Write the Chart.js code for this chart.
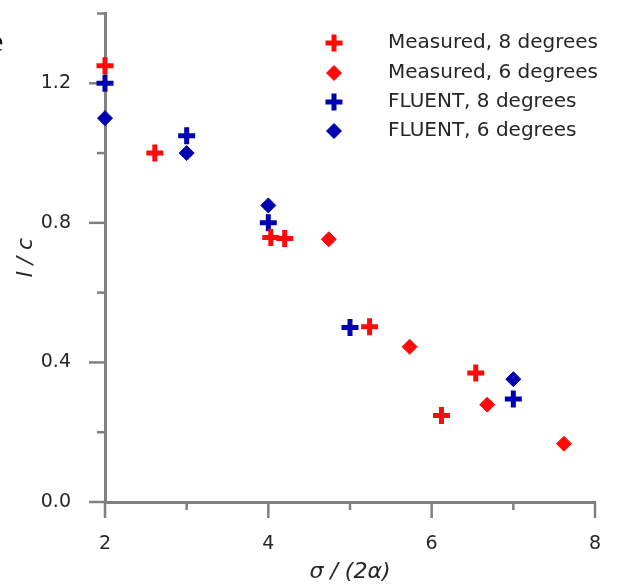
<!DOCTYPE html>
<html><head><meta charset="utf-8">
<script src="https://cdn.jsdelivr.net/npm/chart.js@4"></script>
<style>
html,body{margin:0;padding:0;background:#fff;overflow:hidden}
#wrap{position:relative;width:619px;height:587px}
#e{position:absolute;left:-10px;top:26px;font:30px 'Liberation Serif';color:#111;line-height:30px}
</style></head><body>
<div id="wrap"><canvas id="c" width="619" height="587"></canvas><span id="e">e</span></div>
<script>
// ---- data ----
const xMajorTicks = [2, 4, 6, 8];
const xMinorTicks = [3, 5, 7];
const yMajorTicks = [0, 0.4, 0.8, 1.2];
const yMinorTicks = [0.2, 0.6, 1.0, 1.4];

const meas8X = [2.0, 2.61, 4.03, 4.20, 5.24, 6.12, 6.54];
const meas8Y = [1.25, 1.0, 0.758, 0.755, 0.502, 0.248, 0.37];
const meas6X = [4.74, 5.73, 6.68, 7.62];
const meas6Y = [0.753, 0.445, 0.279, 0.167];
const flu8X = [2, 3, 4, 5, 7];
const flu8Y = [1.2, 1.05, 0.80, 0.50, 0.295];
const flu6X = [2, 3, 4, 7];
const flu6Y = [1.10, 1.0, 0.85, 0.352];

const labels = ['Measured, 8 degrees', 'Measured, 6 degrees', 'FLUENT, 8 degrees', 'FLUENT, 6 degrees'];

const RED = '#ff0a0a', BLUE = '#0000b0', AXIS = '#808080', TXT = '#262626';
const pts = (xs, ys) => xs.map((x, i) => ({x, y: ys[i]}));
function ds(label, data, color, style) {
  const cross = style === 'cross';
  return {label, data, pointStyle: style, backgroundColor: color, borderColor: color,
    pointRadius: cross ? 8.5 : 7.5, borderWidth: cross ? 5 : 1, showLine: false, clip: false};
}
function noPad(s) { s.paddingTop = 0; s.paddingBottom = 0; s.paddingLeft = 0; s.paddingRight = 0; }

const tickPlugin = {
  id: 'axisTicks',
  beforeDatasetsDraw(chart) {
    const {ctx, scales: {x, y}} = chart;
    const yb = y.getPixelForValue(0), xl = x.getPixelForValue(2);
    ctx.save();
    ctx.strokeStyle = AXIS; ctx.lineWidth = 2.5; ctx.lineCap = 'butt';
    const line = (a, b, c, d) => { ctx.beginPath(); ctx.moveTo(a, b); ctx.lineTo(c, d); ctx.stroke(); };
    xMajorTicks.forEach(v => { const p = x.getPixelForValue(v); line(p, yb, p, yb + 16); });
    xMinorTicks.forEach(v => { const p = x.getPixelForValue(v); line(p, yb, p, yb + 8); });
    yMajorTicks.forEach(v => { const p = y.getPixelForValue(v); line(xl - 16, p, xl, p); });
    yMinorTicks.forEach(v => { const p = y.getPixelForValue(v); line(xl - 8, p, xl, p); });
    ctx.restore();
  }
};

const legendPlugin = {
  id: 'customLegend',
  afterDatasetsDraw(chart) {
    const ctx = chart.ctx;
    const rowY = [43, 73, 102, 131];
    ctx.save();
    chart.data.datasets.forEach((d, i) => {
      ctx.fillStyle = d.backgroundColor; ctx.strokeStyle = d.borderColor; ctx.lineWidth = d.borderWidth;
      Chart.helpers.drawPoint(ctx, {pointStyle: d.pointStyle, radius: d.pointRadius, borderWidth: d.borderWidth, rotation: 0}, 334, rowY[i]);
      ctx.fillStyle = TXT; ctx.font = '20px "DejaVu Sans"'; ctx.textBaseline = 'middle'; ctx.textAlign = 'left';
      ctx.fillText(d.label, 388, rowY[i]);
    });
    ctx.restore();
  }
};

new Chart(document.getElementById('c'), {
  type: 'scatter',
  data: {datasets: [
    ds(labels[0], pts(meas8X, meas8Y), RED, 'cross'),
    ds(labels[1], pts(meas6X, meas6Y), RED, 'rectRot'),
    ds(labels[2], pts(flu8X, flu8Y), BLUE, 'cross'),
    ds(labels[3], pts(flu6X, flu6Y), BLUE, 'rectRot')
  ]},
  options: {
    responsive: false, animation: false, devicePixelRatio: 1,
    layout: {padding: {left: 0, right: 24, top: 11, bottom: 0}},
    plugins: {legend: {display: false}, tooltip: {enabled: false}},
    scales: {
      x: {type: 'linear', min: 2, max: 8,
        grid: {display: false}, border: {display: true, color: AXIS, width: 3},
        ticks: {stepSize: 1, autoSkip: false, maxRotation: 0, padding: 23, color: TXT,
          font: {family: 'DejaVu Sans', size: 19},
          callback: v => xMajorTicks.includes(v) ? String(v) : ''},
        title: {display: true, text: 'σ / (2α)', color: TXT,
          font: {family: 'DejaVu Sans', size: 22, style: 'italic'}, padding: {top: 0, bottom: 2}},
        afterFit(s) { s.height = 85; noPad(s); }
      },
      y: {type: 'linear', min: 0, max: 1.4,
        grid: {display: false}, border: {display: true, color: AXIS, width: 3},
        ticks: {stepSize: 0.2, autoSkip: false, padding: 26, color: TXT,
          font: {family: 'DejaVu Sans', size: 19},
          callback: v => yMajorTicks.some(t => Math.abs(t - v) < 1e-6) ? v.toFixed(1) : ''},
        title: {display: true, text: 'l / c', color: TXT,
          font: {family: 'DejaVu Sans', size: 22, style: 'italic'}, padding: {top: 13, bottom: 0}},
        afterFit(s) { s.width = 105; noPad(s); }
      }
    }
  },
  plugins: [tickPlugin, legendPlugin]
});
</script>
</body></html>
